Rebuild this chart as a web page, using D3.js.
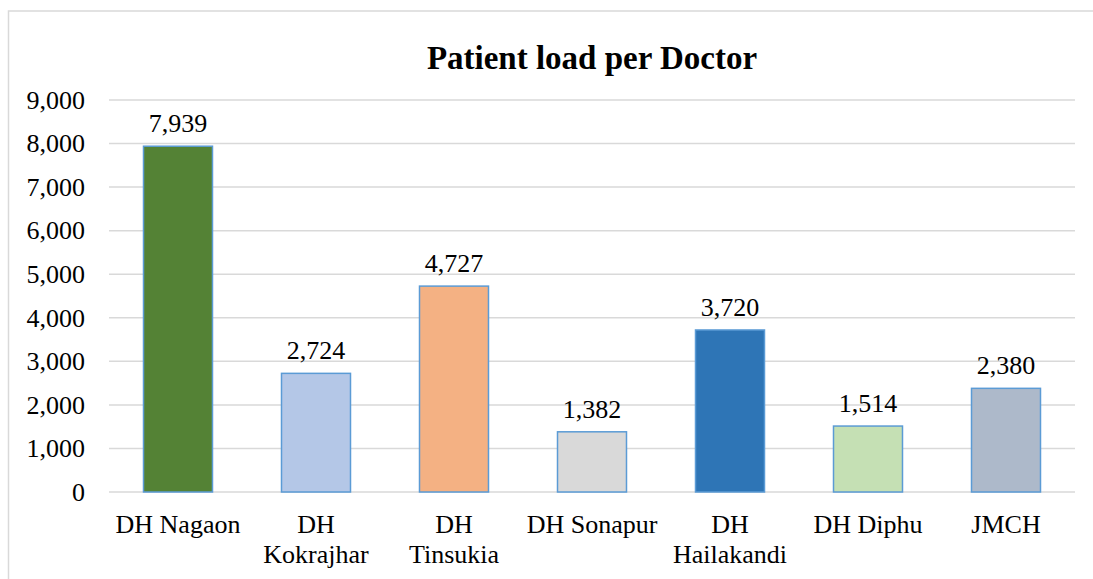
<!DOCTYPE html>
<html>
<head>
<meta charset="utf-8">
<script src="https://cdn.jsdelivr.net/npm/d3@7"></script>
<style>
	body { margin: 0; background: #fff; }
	text { font-family: "Liberation Serif", "Times New Roman", serif; fill: #000; }
</style>
</head>
<body>
<div id="chart"></div>
<script>
var hospitals = ["DH Nagaon", "DH Kokrajhar", "DH Tinsukia", "DH Sonapur", "DH Hailakandi", "DH Diphu", "JMCH"];
var patientLoad = [7939, 2724, 4727, 1382, 3720, 1514, 2380];
var barColors = ["#548235", "#B4C7E7", "#F4B183", "#D9D9D9", "#2E75B6", "#C5E0B4", "#ADB9CA"];
var yTicks = [0, 1000, 2000, 3000, 4000, 5000, 6000, 7000, 8000, 9000];

var chartWidth = 1093,
	chartHeight = 579,
	plotLeft = 109, plotRight = 1075,
	plotTop = 100, plotBottom = 492;

var data = hospitals.map(function (h, i) {
	return { name: h, value: patientLoad[i], color: barColors[i] };
});

var svg = d3.select("#chart")
	.append("svg")
	.attr("width", chartWidth)
	.attr("height", chartHeight);

// chart frame
svg.append("rect")
	.attr("x", 8.5)
	.attr("y", 11)
	.attr("width", 1100)
	.attr("height", 600)
	.attr("fill", "none")
	.attr("stroke", "#D9D9D9")
	.attr("stroke-width", 1.5);

var x = d3.scaleBand()
	.domain(hospitals)
	.range([plotLeft, plotRight])
	.paddingInner(0.5)
	.paddingOuter(0.25);

var y = d3.scaleLinear()
	.domain([0, 9000])
	.range([plotBottom, plotTop]);

var fmt = d3.format(",");

// gridlines
svg.append("g")
	.selectAll("line")
	.data(yTicks)
	.enter()
	.append("line")
	.attr("x1", plotLeft)
	.attr("x2", plotRight)
	.attr("y1", function (d) { return y(d); })
	.attr("y2", function (d) { return y(d); })
	.attr("stroke", "#D9D9D9")
	.attr("stroke-width", 1.5);

// y axis labels
var yAxis = d3.axisLeft(y)
	.tickValues(yTicks)
	.tickFormat(fmt)
	.tickSize(0)
	.tickPadding(24);

svg.append("g")
	.attr("transform", "translate(" + plotLeft + ",0)")
	.call(yAxis)
	.call(function (g) { g.select(".domain").remove(); })
	.selectAll("text")
	.attr("font-size", "26px")
	.attr("font-family", "Liberation Serif, Times New Roman, serif")
	.attr("fill", "#000");

// bars
svg.append("g")
	.selectAll("rect")
	.data(data)
	.enter()
	.append("rect")
	.attr("x", function (d) { return x(d.name); })
	.attr("y", function (d) { return y(d.value); })
	.attr("width", x.bandwidth())
	.attr("height", function (d) { return y(0) - y(d.value); })
	.attr("fill", function (d) { return d.color; })
	.attr("stroke", "#5B9BD5")
	.attr("stroke-width", 1.5);

// value labels
svg.append("g")
	.selectAll("text")
	.data(data)
	.enter()
	.append("text")
	.attr("x", function (d) { return x(d.name) + x.bandwidth() / 2; })
	.attr("y", function (d) { return y(d.value) - 14; })
	.attr("text-anchor", "middle")
	.attr("font-size", "26px")
	.text(function (d) { return fmt(d.value); });

// category labels, wrapped when nearly as wide as the band step
var catG = svg.append("g");
hospitals.forEach(function (h) {
	var cx = x(h) + x.bandwidth() / 2;
	var t = catG.append("text")
		.attr("x", cx)
		.attr("y", plotBottom + 41)
		.attr("text-anchor", "middle")
		.attr("font-size", "26px")
		.text(h);
	if (t.node().getComputedTextLength() > x.step() * 0.965) {
		var words = h.split(" ");
		t.text(null);
		words.forEach(function (w, i) {
			t.append("tspan")
				.attr("x", cx)
				.attr("dy", i === 0 ? 0 : 30)
				.text(w);
		});
	}
});

// title
svg.append("text")
	.attr("x", 592)
	.attr("y", 69)
	.attr("text-anchor", "middle")
	.attr("font-size", "33px")
	.attr("font-weight", "bold")
	.text("Patient load per Doctor");
</script>
</body>
</html>
